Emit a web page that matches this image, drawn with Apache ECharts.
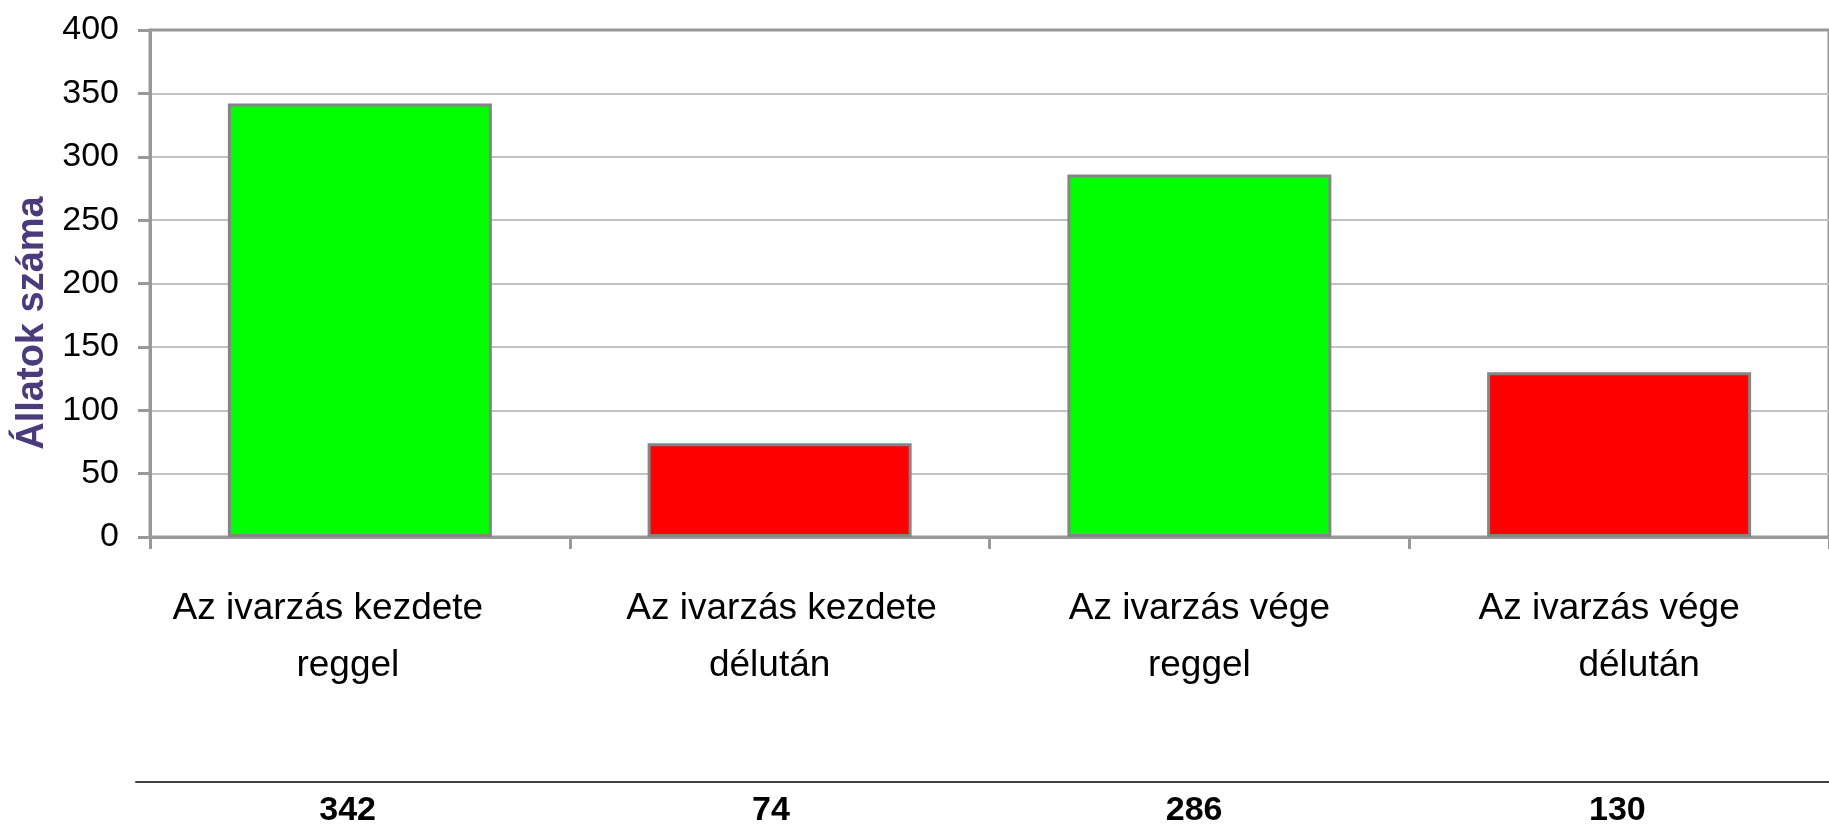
<!DOCTYPE html>
<html>
<head>
<meta charset="utf-8">
<script src="https://cdn.jsdelivr.net/npm/echarts@6/dist/echarts.min.js"></script>
<style>
html, body { margin: 0; padding: 0; background: #ffffff; }
#chart { width: 1829px; height: 828px; }
</style>
</head>
<body>
<div id="chart"></div>
<script>
// ---- data ----
const categoryLines = [
  ['Az ivarzás kezdete', 'reggel'],
  ['Az ivarzás kezdete', 'délután'],
  ['Az ivarzás vége', 'reggel'],
  ['Az ivarzás vége', 'délután']
];
const values = [342, 74, 286, 130];
const barColors = ['#00ff00', '#ff0000', '#00ff00', '#ff0000'];
const yMin = 0;
const yMax = 400;
const yInterval = 50;
const yAxisName = 'Állatok száma';

// ---- style helpers (label line shifts in px, not data) ----
const lineShift = [[-32, -12], [2, -10], [0, 0], [-10, 20]];
const FONT = "'Liberation Sans', Arial, sans-serif";

const categories = categoryLines.map(l => l.join('\n'));
const rich = {};
lineShift.forEach((s, i) => {
  s.forEach((d, j) => {
    rich['c' + i + '_' + j] = {
      fontSize: 37,
      lineHeight: 57,
      fontFamily: FONT,
      color: '#000000',
      align: 'center',
      padding: d < 0 ? [0, -2 * d, 0, 0] : [0, 0, 0, 2 * d]
    };
  });
});

const chart = echarts.init(document.getElementById('chart'));
chart.setOption({
  animation: false,
  backgroundColor: '#ffffff',
  grid: [
    {
      left: 150, right: -9, top: 30, bottom: 291,
      show: true, borderColor: '#999999', borderWidth: 3,
      backgroundColor: 'transparent'
    },
    { left: 136, right: -9, top: 770, height: 12 }
  ],
  xAxis: [
    {
      type: 'category',
      gridIndex: 0,
      data: categories,
      axisLine: { show: true, lineStyle: { color: '#999999', width: 3 } },
      axisTick: { show: true, interval: 0, length: 12, lineStyle: { color: '#999999', width: 3 } },
      axisLabel: {
        interval: 0,
        margin: 100,
        verticalAlign: 'middle',
        formatter: (v, i) => v.split('\n').map((t, j) => '{c' + i + '_' + j + '|' + t + '}').join('\n'),
        rich: rich
      },
      splitLine: { show: false }
    },
    {
      type: 'category',
      gridIndex: 1,
      position: 'bottom',
      data: values.map(v => String(v)),
      axisLine: { show: true, lineStyle: { color: '#404040', width: 2 } },
      axisTick: { show: false },
      axisLabel: {
        interval: 0,
        margin: 29,
        verticalAlign: 'middle',
        fontSize: 34,
        fontWeight: 'bold',
        fontFamily: FONT,
        color: '#000000'
      },
      splitLine: { show: false }
    }
  ],
  yAxis: [
    {
      type: 'value',
      gridIndex: 0,
      min: yMin,
      max: yMax,
      interval: yInterval,
      axisLine: { show: true, lineStyle: { color: '#999999', width: 3 } },
      axisTick: { show: true, length: 12, lineStyle: { color: '#999999', width: 3 } },
      axisLabel: { margin: 31, fontSize: 34, fontFamily: FONT, color: '#000000' },
      splitLine: { show: true, showMaxLine: false, lineStyle: { color: '#c2c2c2', width: 2 } }
    },
    { type: 'value', gridIndex: 1, show: false }
  ],
  graphic: [
    {
      type: 'text',
      x: 33,
      y: 323,
      rotation: Math.PI / 2,
      style: {
        text: yAxisName,
        fontSize: 38,
        fontWeight: 'bold',
        fontFamily: FONT,
        fill: '#4a3b7c',
        align: 'center',
        verticalAlign: 'middle'
      }
    }
  ],
  series: [
    {
      type: 'bar',
      xAxisIndex: 0,
      yAxisIndex: 0,
      barWidth: 264,
      data: values.map((v, i) => ({ value: v, itemStyle: { color: barColors[i] } })),
      itemStyle: { borderColor: '#858585', borderWidth: 3 }
    }
  ]
});
</script>
</body>
</html>
